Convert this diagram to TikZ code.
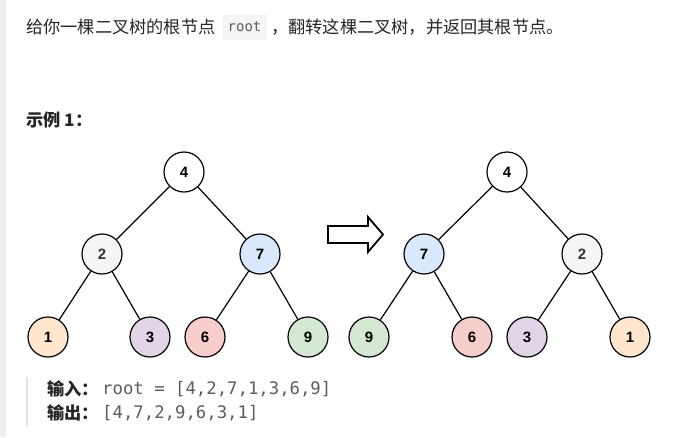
\documentclass[tikz,border=0pt]{standalone}
\usepackage{fontspec}
\setmainfont{Noto Sans CJK SC}
\setmonofont{DejaVu Sans Mono}
\newfontfamily\numfont{Liberation Sans}
\usepackage{tikz}
\usetikzlibrary{positioning}
\definecolor{txtgray}{HTML}{262626}
\definecolor{codegray}{HTML}{5C5C5C}
\definecolor{stripgray}{HTML}{F0F0F0}
\definecolor{bargray}{HTML}{E3E3E3}
\definecolor{boxfill}{HTML}{F5F5F5}
\definecolor{boxline}{HTML}{E3E3E3}
\definecolor{ngray}{HTML}{F5F5F5}
\definecolor{nblue}{HTML}{DAE8FC}
\definecolor{norange}{HTML}{FFE6CC}
\definecolor{npurple}{HTML}{E1D5E7}
\definecolor{nred}{HTML}{F8CECC}
\definecolor{ngreen}{HTML}{D5E8D4}

\begin{document}
\begin{tikzpicture}[x=1pt,y=-1pt,
  txt/.style={inner sep=0pt,anchor=west,text=txtgray,font=\fontsize{17.2}{20}\selectfont},
  btxt/.style={txt,font=\fontsize{17.2}{20}\selectfont\bfseries},
  code/.style={inner sep=0pt,anchor=west,text=codegray,font=\ttfamily\fontsize{17.3}{20}\selectfont},
  tn/.style={circle,draw,line width=1.2pt,minimum size=40pt,inner sep=0pt,
             font=\numfont\bfseries\fontsize{15}{17}\selectfont},
  edge/.style={line width=1.2pt}]
\useasboundingbox (0,0) rectangle (684,437);
\fill[stripgray] (0,0) rectangle (6,437);
% title line
\node[txt] (t1) at (26,27) {给你一棵二叉树的根节点};
\node[draw=boxline,fill=boxfill,rounded corners=3pt,minimum width=43pt,minimum height=24pt,
      inner sep=0pt,text=codegray,font=\ttfamily\fontsize{14}{16}\selectfont] (rt) at (244.5,27) {root};
\node[txt] (t2) at (271,27) {，翻转这棵二叉树，并返回其根节点。};
\node[btxt] (ex) at (26,120) {示例 1：};
% input tree
\node[tn] (a4) at (184,172) {4};
\node[tn,fill=ngray,text=black!80] (a2) at (102,254) {2};
\node[tn,fill=nblue] (a7) at (260,254) {7};
\node[tn,fill=norange] (a1) at (48,337) {1};
\node[tn,fill=npurple] (a3) at (150,337) {3};
\node[tn,fill=nred] (a6) at (205,337) {6};
\node[tn,fill=ngreen] (a9) at (308,337) {9};
% output tree
\node[tn] (b4) at (507,172) {4};
\node[tn,fill=nblue] (b7) at (424,254) {7};
\node[tn,fill=ngray,text=black!80] (b2) at (582,254) {2};
\node[tn,fill=ngreen] (b9) at (369,337) {9};
\node[tn,fill=nred] (b6) at (472,337) {6};
\node[tn,fill=npurple] (b3) at (527,337) {3};
\node[tn,fill=norange] (b1) at (630,337) {1};
\foreach \p/\c in {a4/a2,a4/a7,a2/a1,a2/a3,a7/a6,a7/a9,b4/b7,b4/b2,b7/b9,b7/b6,b2/b3,b2/b1}
  \draw[edge] (\p) -- (\c);
% block arrow
\draw[line width=1.8pt,fill=white,line join=miter]
  (328,226) -- (368,226) -- (368,217) -- (383,234.5) -- (368,252) -- (368,243) -- (328,243) -- cycle;
% example box
\draw[bargray,line width=2pt] (27,377) -- (27,427);
\node[btxt] (in) at (47,389) {输入：};
\node[code] (inv) at (102,389) {root = [4,2,7,1,3,6,9]};
\node[btxt] (out) at (47,413) {输出：};
\node[code] (outv) at (102,413) {[4,7,2,9,6,3,1]};
\end{tikzpicture}
\end{document}
